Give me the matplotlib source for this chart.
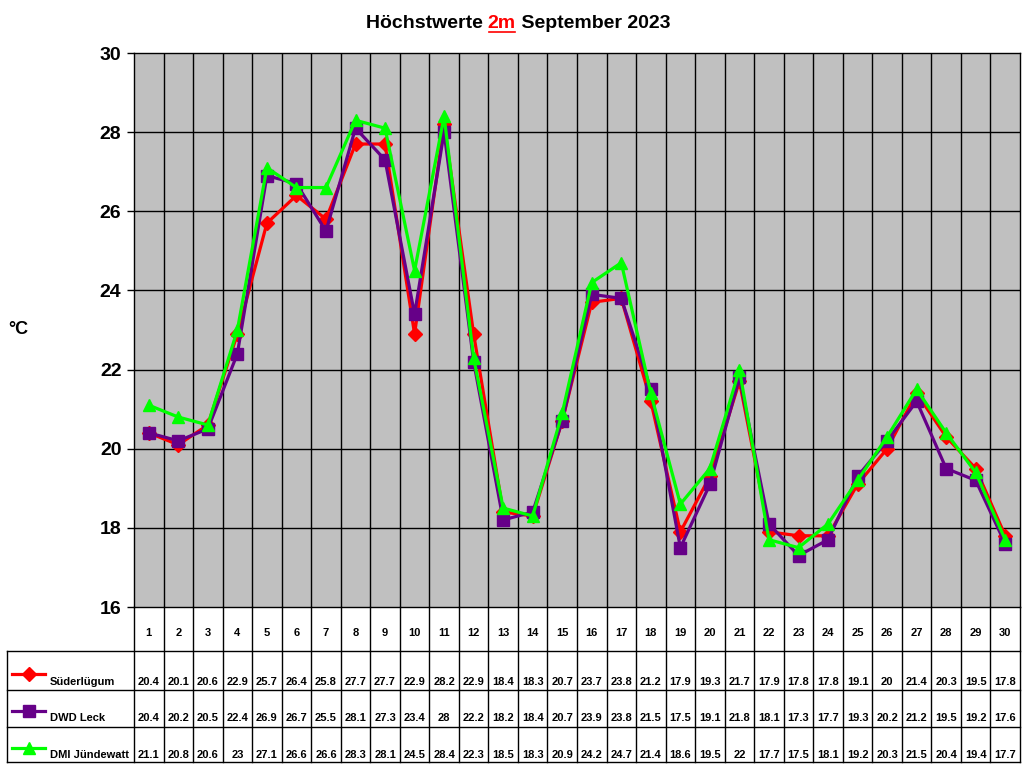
import matplotlib
matplotlib.use("Agg")
import matplotlib.pyplot as plt
from matplotlib.lines import Line2D

plt.rcParams['font.family'] = ['Liberation Sans', 'DejaVu Sans']
plt.rcParams['font.weight'] = 'bold'

days = list(range(1, 31))
suederluegum = [20.4, 20.1, 20.6, 22.9, 25.7, 26.4, 25.8, 27.7, 27.7, 22.9,
                28.2, 22.9, 18.4, 18.3, 20.7, 23.7, 23.8, 21.2, 17.9, 19.3,
                21.7, 17.9, 17.8, 17.8, 19.1, 20, 21.4, 20.3, 19.5, 17.8]
dwd_leck = [20.4, 20.2, 20.5, 22.4, 26.9, 26.7, 25.5, 28.1, 27.3, 23.4,
            28, 22.2, 18.2, 18.4, 20.7, 23.9, 23.8, 21.5, 17.5, 19.1,
            21.8, 18.1, 17.3, 17.7, 19.3, 20.2, 21.2, 19.5, 19.2, 17.6]
dmi_juendewatt = [21.1, 20.8, 20.6, 23, 27.1, 26.6, 26.6, 28.3, 28.1, 24.5,
                  28.4, 22.3, 18.5, 18.3, 20.9, 24.2, 24.7, 21.4, 18.6, 19.5,
                  22, 17.7, 17.5, 18.1, 19.2, 20.3, 21.5, 20.4, 19.4, 17.7]

series = [
    ("Süderlügum", suederluegum, "#FF0000", "D", 7.5),
    ("DWD Leck", dwd_leck, "#660088", "s", 8.5),
    ("DMI Jündewatt", dmi_juendewatt, "#00FF00", "^", 8.5),
]

W, H = 1024, 768
fig = plt.figure(figsize=(W / 100, H / 100), dpi=100)

# main plot area
ax = fig.add_axes([134 / W, 161 / H, 886 / W, 554 / H])
ax.set_facecolor('#C0C0C0')
ax.set_xlim(0.5, 30.5)
ax.set_ylim(16, 30)
ax.set_yticks(range(16, 31, 2))
ax.set_xticks([])
ax.tick_params(axis='y', direction='out', length=5, width=1, labelsize=14, pad=4)
for lbl in ax.get_yticklabels():
    lbl.set_fontweight('bold')
for y in range(18, 30, 2):
    ax.axhline(y, color='black', lw=1, zorder=1)
for x in range(1, 30):
    ax.axvline(x + 0.5, color='black', lw=1, zorder=1)
for sp in ax.spines.values():
    sp.set_color('black')
    sp.set_linewidth(1)

for name, vals, col, mk, ms in series:
    ax.plot(days, vals, color=col, lw=2.3, marker=mk, markersize=ms,
            markeredgecolor=col, zorder=3, clip_on=False)

fig.text(18 / W, 1 - 330 / H, "°C", fontsize=13, fontweight='bold',
         ha='center', va='center')

# data table below the plot
tab = fig.add_axes([134 / W, 0, 886 / W, 161 / H])
tab.set_xlim(0.5, 30.5)
tab.set_ylim(161, 0)
tab.axis('off')

cell = 886 / 30
left = 0.5 + (7 - 134) / cell
row_lines = [44, 83, 120, 155]
for y in row_lines:
    tab.plot([left, 30.5], [y, y], color='black', lw=1, clip_on=False)
for x in range(31):
    tab.plot([x + 0.5, x + 0.5], [0, 155], color='black', lw=1, clip_on=False)
tab.plot([left, left], [44, 155], color='black', lw=1, clip_on=False)

for d in days:
    tab.text(d, 26, str(d), ha='center', va='center', fontsize=8, fontweight='bold')

text_y = [75, 111, 148]
marker_y = [67, 104, 141]
for (name, vals, col, mk, ms), ty, my in zip(series, text_y, marker_y):
    for d, v in zip(days, vals):
        tab.text(d, ty, f"{v:g}", ha='center', va='center', fontsize=8,
                 fontweight='bold')
    x0 = 0.5 + (12 - 134) / cell
    x1 = 0.5 + (45 - 134) / cell
    tab.add_line(Line2D([x0, x1], [my, my], color=col, lw=2.3, clip_on=False))
    tab.add_line(Line2D([(x0 + x1) / 2], [my], color=col, marker=mk,
                        markersize=ms, markeredgecolor=col, clip_on=False))
    tab.text(0.5 + (50 - 134) / cell, ty, name, ha='left', va='center',
             fontsize=8, fontweight='bold')

# title with red underlined "2m"
parts = [("Höchstwerte ", 'black'), ("2m", '#FF0000'), (" September 2023", 'black')]
fig.canvas.draw()
renderer = fig.canvas.get_renderer()
texts = []
widths = []
for s, c in parts:
    t = fig.text(0, 1 - 23 / H, s, fontsize=14, fontweight='bold', color=c,
                 ha='left', va='center')
    texts.append(t)
    widths.append(t.get_window_extent(renderer).width)
x = (518 - sum(widths) / 2)
for t, w in zip(texts, widths):
    t.set_x(x / W)
    x += w
ux0 = texts[0].get_window_extent(renderer).x1
fig.add_artist(Line2D([(ux0 + 1) / W, (ux0 + widths[1] - 1) / W],
                      [(H - 32) / H, (H - 32) / H], color='#FF0000', lw=1.2))

fig.savefig("out.png", dpi=100)
